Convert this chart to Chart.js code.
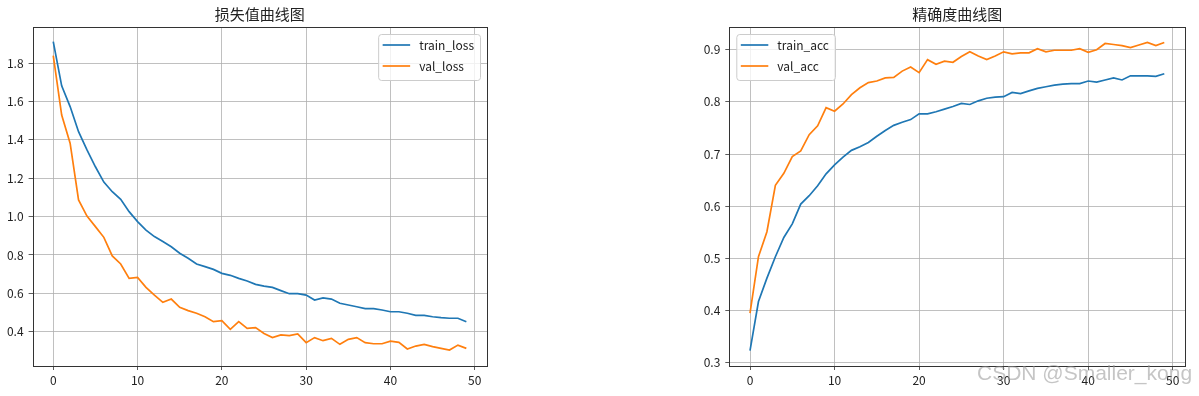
<!DOCTYPE html>
<html>
<head>
<meta charset="utf-8">
<script src="https://cdn.jsdelivr.net/npm/chart.js@4.4.1/dist/chart.umd.min.js"></script>
<style>
  html, body { margin: 0; padding: 0; background: #fff; }
  body { width: 1199px; height: 396px; position: relative; overflow: hidden; font-family: "Noto Sans CJK SC", "Noto Sans", sans-serif; }
  .panel { position: absolute; top: 0; height: 396px; }
  #lossPanel { left: 0; width: 500px; }
  #accPanel { left: 690px; width: 509px; }
  .mark { position: absolute; left: 977px; top: 361px; font: 21px "Liberation Sans", Arial, sans-serif; color: rgba(150,150,150,0.55); white-space: nowrap; pointer-events: none; }
</style>
</head>
<body>
<div class="panel" id="lossPanel"><canvas id="lossChart"></canvas></div>
<div class="panel" id="accPanel"><canvas id="accChart"></canvas></div>
<div class="mark">CSDN @Smaller_kong</div>
<script>
// epochs 0..49
const epochs = Array.from({ length: 50 }, (_, i) => i);
const xTicks = [0, 10, 20, 30, 40, 50];

const trainLoss = [1.913, 1.682, 1.574, 1.443, 1.348, 1.26, 1.18, 1.13, 1.09, 1.026,
  0.974, 0.93, 0.896, 0.87, 0.843, 0.809, 0.783, 0.753, 0.739, 0.725,
  0.704, 0.694, 0.678, 0.664, 0.647, 0.638, 0.631, 0.614, 0.598, 0.598,
  0.591, 0.565, 0.576, 0.57, 0.548, 0.539, 0.53, 0.52, 0.52, 0.513,
  0.504, 0.504, 0.496, 0.485, 0.485, 0.478, 0.473, 0.47, 0.47, 0.452];
const valLoss = [1.84, 1.53, 1.383, 1.087, 1.003, 0.948, 0.892, 0.795, 0.753, 0.678,
  0.683, 0.631, 0.591, 0.553, 0.57, 0.527, 0.51, 0.496, 0.478, 0.452,
  0.457, 0.412, 0.452, 0.417, 0.421, 0.391, 0.369, 0.383, 0.379, 0.388,
  0.343, 0.369, 0.353, 0.365, 0.334, 0.36, 0.369, 0.343, 0.337, 0.337,
  0.351, 0.344, 0.31, 0.325, 0.334, 0.322, 0.313, 0.304, 0.33, 0.313];
const lossTicks = [0.4, 0.6, 0.8, 1.0, 1.2, 1.4, 1.6, 1.8];

const trainAcc = [0.323, 0.417, 0.462, 0.503, 0.54, 0.566, 0.604, 0.62, 0.639, 0.662,
  0.679, 0.694, 0.707, 0.714, 0.722, 0.734, 0.745, 0.755, 0.761, 0.766,
  0.777, 0.777, 0.781, 0.786, 0.791, 0.797, 0.795, 0.802, 0.807, 0.809,
  0.81, 0.818, 0.816, 0.821, 0.826, 0.829, 0.832, 0.834, 0.835, 0.835,
  0.84, 0.838, 0.842, 0.846, 0.842, 0.85, 0.85, 0.85, 0.849, 0.854];
const valAcc = [0.395, 0.503, 0.551, 0.64, 0.663, 0.695, 0.706, 0.737, 0.754, 0.789,
  0.782, 0.796, 0.814, 0.827, 0.837, 0.84, 0.846, 0.847, 0.859, 0.867,
  0.856, 0.881, 0.872, 0.878, 0.876, 0.887, 0.896, 0.888, 0.881, 0.888,
  0.896, 0.892, 0.894, 0.894, 0.902, 0.896, 0.899, 0.899, 0.899, 0.902,
  0.895, 0.9, 0.912, 0.91, 0.908, 0.904, 0.909, 0.914, 0.908, 0.914];
const accTicks = [0.3, 0.4, 0.5, 0.6, 0.7, 0.8, 0.9];

const BLUE = "#1f77b4";
const ORANGE = "#ff7f0e";
const TEXT = "#222";
const FONT = '"Noto Sans CJK SC", "Noto Sans", sans-serif';

// black frame round the plot area, like matplotlib spines
const framePlugin = {
  id: "frame",
  afterDatasetsDraw(chart) {
    const a = chart.chartArea, ctx = chart.ctx;
    ctx.save();
    ctx.strokeStyle = "#333";
    ctx.lineWidth = 1;
    ctx.strokeRect(Math.round(a.left) + 0.5, Math.round(a.top) + 0.5, Math.round(a.right - a.left), Math.round(a.bottom - a.top));
    ctx.restore();
  },
};

// matplotlib-style legend box inside the axes
const boxLegend = {
  id: "boxLegend",
  afterDraw(chart, args, opts) {
    const a = chart.chartArea, ctx = chart.ctx;
    ctx.save();
    ctx.font = "12px " + FONT;
    const sets = chart.data.datasets;
    const tw = Math.max(...sets.map((d) => ctx.measureText(d.label).width));
    const w = 41 + tw + 6, h = 46;
    const left = opts.side === "right" ? a.right - 7 - w : a.left + 7;
    const top = a.top + 7;
    ctx.fillStyle = "rgba(255,255,255,0.8)";
    ctx.strokeStyle = "#cccccc";
    ctx.lineWidth = 1;
    ctx.beginPath();
    ctx.roundRect(left + 0.5, top + 0.5, w, h, 3);
    ctx.fill();
    ctx.stroke();
    sets.forEach((d, i) => {
      const y = top + 11 + i * 21;
      ctx.strokeStyle = d.borderColor;
      ctx.lineWidth = 1.7;
      ctx.beginPath();
      ctx.moveTo(left + 4.5, y);
      ctx.lineTo(left + 32, y);
      ctx.stroke();
      ctx.fillStyle = TEXT;
      ctx.textBaseline = "middle";
      ctx.fillText(d.label, left + 41, y);
    });
    ctx.restore();
  },
};

function makeChart(id, title, names, series, yTicks, yMin, yMax, legendSide, yWidth, padRight) {
  return new Chart(document.getElementById(id), {
    type: "line",
    data: {
      datasets: series.map((vals, k) => ({
        label: names[k],
        data: epochs.map((e, i) => ({ x: e, y: vals[i] })),
        borderColor: k === 0 ? BLUE : ORANGE,
        borderWidth: 1.7,
        pointRadius: 0,
        tension: 0,
        fill: false,
        order: k === 0 ? 1 : 0,
      })),
    },
    options: {
      responsive: true,
      maintainAspectRatio: false,
      animation: false,
      layout: { padding: { left: 0, right: padRight, top: 0, bottom: 0 } },
      plugins: {
        legend: { display: false },
        tooltip: { enabled: false },
        title: {
          display: true,
          text: title,
          fullSize: false,
          color: TEXT,
          font: { size: 15, family: FONT, weight: "normal" },
          padding: { top: 5, bottom: 4 },
        },
        boxLegend: { side: legendSide },
      },
      scales: {
        x: {
          type: "linear",
          min: -2.45,
          max: 51.45,
          afterBuildTicks: (s) => { s.ticks = xTicks.map((v) => ({ value: v })); },
          afterFit: (s) => { s.height = 30; },
          border: { display: false },
          grid: { color: "#b0b0b0", lineWidth: 0.8, tickLength: 4, tickColor: "#333" },
          ticks: { color: TEXT, font: { size: 12, family: FONT }, padding: 3, maxRotation: 0, autoSkip: false },
        },
        y: {
          min: yMin,
          max: yMax,
          afterBuildTicks: (s) => { s.ticks = yTicks.map((v) => ({ value: v })); },
          afterFit: (s) => { s.width = yWidth; },
          border: { display: false },
          grid: { color: "#b0b0b0", lineWidth: 0.8, tickLength: 4, tickColor: "#333" },
          ticks: { color: TEXT, font: { size: 12, family: FONT }, padding: 5, autoSkip: false, callback: (v) => v.toFixed(1) },
        },
      },
    },
    plugins: [framePlugin, boxLegend],
  });
}

makeChart("lossChart", "损失值曲线图", ["train_loss", "val_loss"], [trainLoss, valLoss], lossTicks, 0.221, 1.989, "right", 32.6, 13);
makeChart("accChart", "精确度曲线图", ["train_acc", "val_acc"], [trainAcc, valAcc], accTicks, 0.2934, 0.9436, "left", 39.3, 14);
</script>
</body>
</html>
